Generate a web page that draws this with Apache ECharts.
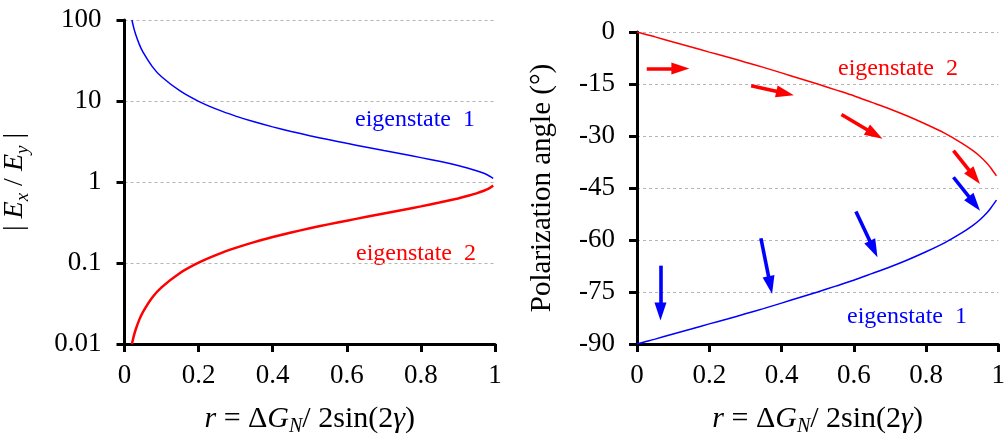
<!DOCTYPE html>
<html>
<head>
<meta charset="utf-8">
<script src="https://cdn.jsdelivr.net/npm/echarts@6/dist/echarts.min.js"></script>
<style>
  html, body { margin: 0; padding: 0; background: #fff; }
  #chart { width: 1008px; height: 442px; }
</style>
</head>
<body>
<div id="chart"></div>
<script>
// left panel: |Ex/Ey| vs r (log axis)
var rLeft  = [0.02, 0.025, 0.03, 0.04, 0.05, 0.075, 0.1, 0.15, 0.2, 0.25, 0.3, 0.35, 0.4, 0.45, 0.5,
              0.55, 0.6, 0.65, 0.7, 0.75, 0.8, 0.85, 0.9, 0.93, 0.95, 0.97, 0.98, 0.99, 0.995];
var ratio1 = [100, 80, 66.6, 50, 40, 26.6, 19.9, 13.3, 9.9, 7.87, 6.51, 5.53, 4.79, 4.21, 3.73,
              3.34, 3.0, 2.71, 2.45, 2.22, 2.0, 1.8, 1.6, 1.47, 1.38, 1.28, 1.22, 1.15, 1.11];
var ratio2 = [0.01, 0.0125, 0.015, 0.02, 0.025, 0.0376, 0.0501, 0.0754, 0.101, 0.127, 0.1535, 0.181, 0.209, 0.238, 0.268,
              0.3, 0.333, 0.369, 0.408, 0.451, 0.5, 0.557, 0.627, 0.68, 0.724, 0.78, 0.817, 0.868, 0.905];

// right panel: polarization angle vs r
var rRight = [0, 0.02, 0.05, 0.1, 0.15, 0.2, 0.25, 0.3, 0.35, 0.4, 0.45, 0.5, 0.55, 0.6, 0.65,
              0.7, 0.75, 0.8, 0.85, 0.9, 0.93, 0.95, 0.97, 0.98, 0.995];
var angle2 = [0, -0.6, -1.4, -2.9, -4.3, -5.8, -7.2, -8.7, -10.2, -11.8, -13.4, -15, -16.7, -18.4, -20.3,
              -22.2, -24.3, -26.6, -29.1, -32.1, -34.2, -35.9, -38.0, -39.3, -41.5];
var angle1 = [-90, -89.4, -88.6, -87.1, -85.7, -84.2, -82.8, -81.3, -79.8, -78.2, -76.6, -75, -73.3, -71.6, -69.7,
              -67.8, -65.7, -63.4, -60.9, -57.9, -55.8, -54.1, -52.0, -50.7, -48.5];

// polarization arrows [x1, y1, x2, y2] in data units
var redArrows  = [[0.027, -10.5, 0.12, -10.5], [0.316, -15.5, 0.41, -17.7], [0.566, -23.8, 0.658, -29.5], [0.876, -34.2, 0.934, -41.8]];
var blueArrows = [[0.876, -41.9, 0.934, -49.5], [0.606, -51.8, 0.655, -62.6], [0.343, -59.5, 0.369, -73.0], [0.065, -67.4, 0.065, -80.6]];

var FONT = '"Liberation Serif", "Times New Roman", serif';

function pairs(xs, ys) {
  var out = [];
  for (var i = 0; i < xs.length; i++) out.push([xs[i], ys[i]]);
  return out;
}
function arrowData(list) {
  return list.map(function (a) {
    return [{ coord: [a[0], a[1]] }, { coord: [a[2], a[3]] }];
  });
}

var myChart = echarts.init(document.getElementById('chart'));

var axisLine = { show: true, onZero: false, lineStyle: { color: '#000', width: 3 } };
var axisTick = { show: true, inside: false, length: 8, lineStyle: { color: '#000', width: 3 } };
var tickFont = { color: '#000', fontFamily: FONT, fontSize: 27 };
var gridLine = { show: true, lineStyle: { color: '#b4b4b4', width: 1, type: [3, 3] } };

function rich(size, subSize, pad) {
  return {
    i:   { fontFamily: FONT, fontSize: size, fontStyle: 'italic', color: '#000' },
    sub: { fontFamily: FONT, fontSize: subSize, fontStyle: 'italic', color: '#000', padding: [pad, 0, 0, 0] },
    n:   { fontFamily: FONT, fontSize: size, color: '#000' }
  };
}

var xName = '{i|r}{n| = Δ}{i|G}{sub|N}{n|/ 2sin(2}{i|γ}{n|)}';

function makeX(idx) {
  return {
    type: 'value', gridIndex: idx, min: 0, max: 1, interval: 0.2,
    axisLine: axisLine, axisTick: axisTick,
    axisLabel: Object.assign({ margin: 18 }, tickFont),
    splitLine: { show: false },
    name: xName, nameLocation: 'middle', nameGap: 57,
    nameTextStyle: { fontFamily: FONT, fontSize: 30, color: '#000', rich: rich(30, 20, 16) }
  };
}

function arrowMark(color, list) {
  return {
    silent: true, symbol: ['none', 'triangle'], symbolSize: [12, 18], label: { show: false },
    lineStyle: { color: color, width: 3.6, type: 'solid' }, emphasis: { disabled: true },
    data: arrowData(list)
  };
}

var option = {
  animation: false,
  backgroundColor: '#fff',
  grid: [
    { left: 123, right: 513, top: 20, bottom: 92 },
    { left: 637, right: 8, top: 32, bottom: 92 }
  ],
  xAxis: [makeX(0), makeX(1)],
  yAxis: [
    {
      type: 'log', logBase: 10, gridIndex: 0, min: 0.01, max: 100,
      axisLine: axisLine, axisTick: axisTick,
      axisLabel: Object.assign({ margin: 23, formatter: function (v) { return String(parseFloat(v.toPrecision(2))); } }, tickFont),
      splitLine: gridLine,
      name: '{n|| }{i|E}{sub|x}{n| / }{i|E}{sub|y}{n| |}', nameLocation: 'middle', nameRotate: 90, nameGap: 92,
      nameTextStyle: { fontFamily: FONT, fontSize: 28, color: '#000', rich: rich(28, 19, 16) }
    },
    {
      type: 'value', gridIndex: 1, min: -90, max: 0, interval: 15,
      axisLine: axisLine, axisTick: axisTick,
      axisLabel: Object.assign({ margin: 22 }, tickFont),
      splitLine: gridLine,
      name: 'Polarization angle (°)', nameLocation: 'middle', nameRotate: 90, nameGap: 80,
      nameTextStyle: { fontFamily: FONT, fontSize: 29, color: '#000' }
    }
  ],
  series: [
    { type: 'line', xAxisIndex: 0, yAxisIndex: 0, data: pairs(rLeft, ratio1), showSymbol: false, smooth: 0.2,
      lineStyle: { color: '#0000ff', width: 1.5 }, silent: true },
    { type: 'line', xAxisIndex: 0, yAxisIndex: 0, data: pairs(rLeft, ratio2), showSymbol: false, smooth: 0.2,
      lineStyle: { color: '#ff0000', width: 2.5 }, silent: true },
    { type: 'line', xAxisIndex: 1, yAxisIndex: 1, data: pairs(rRight, angle2), showSymbol: false, smooth: 0.2,
      lineStyle: { color: '#ff0000', width: 1.5 }, silent: true, markLine: arrowMark('#ff0000', redArrows) },
    { type: 'line', xAxisIndex: 1, yAxisIndex: 1, data: pairs(rRight, angle1), showSymbol: false, smooth: 0.2,
      lineStyle: { color: '#0000ff', width: 1.5 }, silent: true, markLine: arrowMark('#0000ff', blueArrows) }
  ],
  graphic: [
    { type: 'text', x: 415, y: 120, style: { text: 'eigenstate  1', fill: '#0000ff', font: '24px ' + FONT, textAlign: 'center', textVerticalAlign: 'middle' } },
    { type: 'text', x: 416, y: 254, style: { text: 'eigenstate  2', fill: '#ff0000', font: '24px ' + FONT, textAlign: 'center', textVerticalAlign: 'middle' } },
    { type: 'text', x: 898, y: 69, style: { text: 'eigenstate  2', fill: '#ff0000', font: '24px ' + FONT, textAlign: 'center', textVerticalAlign: 'middle' } },
    { type: 'text', x: 907, y: 317, style: { text: 'eigenstate  1', fill: '#0000ff', font: '24px ' + FONT, textAlign: 'center', textVerticalAlign: 'middle' } }
  ]
};

myChart.setOption(option);
</script>
</body>
</html>
